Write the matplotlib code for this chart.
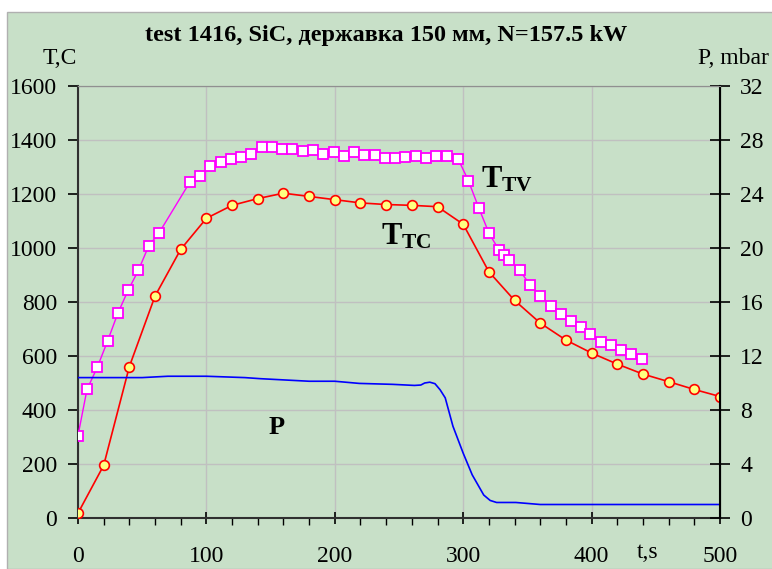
import matplotlib
matplotlib.use('Agg')
import matplotlib.pyplot as plt
import matplotlib.ticker as ticker
from matplotlib.patches import Rectangle

plt.rcParams['font.family'] = ['Liberation Serif', 'DejaVu Serif']
plt.rcParams['mathtext.fontset'] = 'custom'
plt.rcParams['mathtext.rm'] = 'Liberation Serif'
plt.rcParams['mathtext.bf'] = 'Liberation Serif:bold'

# T_TV (pyrometer), every ~8 s
tv_t = [0, 7, 15, 23, 31, 39, 47, 55, 63, 87, 95, 103, 111, 119, 127, 135, 143, 151,
        159, 167, 175, 183, 191, 199, 207, 215, 223, 231, 239, 247, 255, 263, 271, 279,
        287, 296, 304, 312, 320, 328, 332, 336, 344, 352, 360, 368, 376, 384, 392, 399,
        407, 415, 423, 431, 439]
tv_T = [305, 476, 558, 655, 758, 843, 917, 1007, 1055, 1243, 1268, 1305, 1318, 1330,
        1338, 1350, 1375, 1375, 1367, 1367, 1358, 1362, 1350, 1354, 1342, 1354, 1345,
        1345, 1333, 1333, 1338, 1342, 1333, 1342, 1342, 1330, 1250, 1150, 1056, 991,
        974, 955, 917, 864, 824, 787, 755, 729, 708, 681, 652, 639, 621, 607, 590]

# T_TC (thermocouple), every 20 s
tc_t = [0, 20, 40, 60, 80, 100, 120, 140, 160, 180, 200, 220, 240, 260, 280, 300,
        320, 340, 360, 380, 400, 420, 440, 460, 480, 500]
tc_T = [18, 195, 561, 822, 995, 1110, 1158, 1183, 1203, 1191, 1179, 1167, 1161, 1158,
        1153, 1088, 912, 806, 722, 659, 611, 570, 533, 505, 476, 450]

# pressure, mbar
p_t = [0, 50, 70, 100, 130, 142, 180, 200, 219, 245, 262, 267, 270, 274, 278, 282,
       286, 292, 300, 307, 316, 321, 326, 341, 360, 500]
p_v = [10.4, 10.4, 10.5, 10.5, 10.4, 10.32, 10.13, 10.13, 9.97, 9.9, 9.82, 9.85, 10.0,
       10.06, 9.95, 9.5, 8.9, 6.8, 4.8, 3.2, 1.7, 1.3, 1.15, 1.15, 1.0, 1.0]

bg = '#c8e0c8'
fig = plt.figure(figsize=(7.72, 5.69), dpi=100)
fig.patch.set_facecolor('white')
fig.patches.append(Rectangle((7 / 772, 0), 1, 1 - 12 / 569, transform=fig.transFigure,
                             facecolor=bg, edgecolor='#b0b0b0', linewidth=1, zorder=-10))

ax = fig.add_axes([78 / 772, 1 - 518 / 569, 642 / 772, 432 / 569])
ax.set_facecolor(bg)
ax2 = ax.twinx()

ax.plot(tv_t, tv_T, color='#ff00ff', linewidth=1, marker='s', markersize=7.5,
        markerfacecolor='white', markeredgecolor='#ff00ff', markeredgewidth=1.3, zorder=3)
ax.plot(tc_t, tc_T, color='#ff0000', linewidth=1.2, marker='o', markersize=7,
        markerfacecolor='#ffff80', markeredgecolor='#ff0000', markeredgewidth=1.2, zorder=3)
ax2.plot(p_t, p_v, color='#0000ff', linewidth=1.2)

ax.set_xlim(0, 500)
ax.set_ylim(0, 1600)
ax2.set_ylim(0, 32)

ax.xaxis.set_major_locator(ticker.MultipleLocator(100))
ax.xaxis.set_minor_locator(ticker.MultipleLocator(20))
ax.yaxis.set_major_locator(ticker.MultipleLocator(200))
ax2.yaxis.set_major_locator(ticker.MultipleLocator(4))

ax.grid(True, which='major', color='#c0c0c0', linewidth=1)
ax.set_axisbelow(True)

ax.tick_params(axis='y', which='major', direction='out', length=7, width=1.2,
               labelsize=17, colors='black', pad=8)
ax.tick_params(axis='x', which='major', direction='inout', length=9, width=1.2,
               labelsize=17, pad=16)
ax.tick_params(axis='x', which='minor', direction='out', length=5, width=1)
ax2.tick_params(axis='y', direction='inout', length=15, width=1.2, labelsize=17, pad=7)

for s in ['left', 'bottom']:
    ax.spines[s].set_color('#303030')
    ax.spines[s].set_linewidth(1.5)
ax.spines['top'].set_color('#909090')
ax2.spines['top'].set_color('#909090')
ax2.spines['right'].set_color('black')
ax2.spines['right'].set_linewidth(1.5)
ax2.spines['left'].set_visible(False)
ax2.spines['bottom'].set_visible(False)

fig.text(0.5, 1 - 36 / 569, 'test 1416, SiC, державка 150 мм, N=157.5 kW',
         ha='center', va='center', fontsize=17.5, fontweight='bold')
fig.text(60 / 772, 1 - 58 / 569, 'T,C', ha='center', va='center', fontsize=17)
fig.text(733 / 772, 1 - 58 / 569, 'P, mbar', ha='center', va='center', fontsize=17)
fig.text(648 / 772, 1 - 552 / 569, 't,s', ha='center', va='center', fontsize=17)

ax.text(334, 1253, r'$\mathbf{T_{TV}}$', ha='center', va='center', fontsize=22)
ax.text(256, 1040, r'$\mathbf{T_{TC}}$', ha='center', va='center', fontsize=22)
ax.text(155, 335, 'P', ha='center', va='center', fontsize=19, fontweight='bold')

fig.savefig('out.png', dpi=100)
